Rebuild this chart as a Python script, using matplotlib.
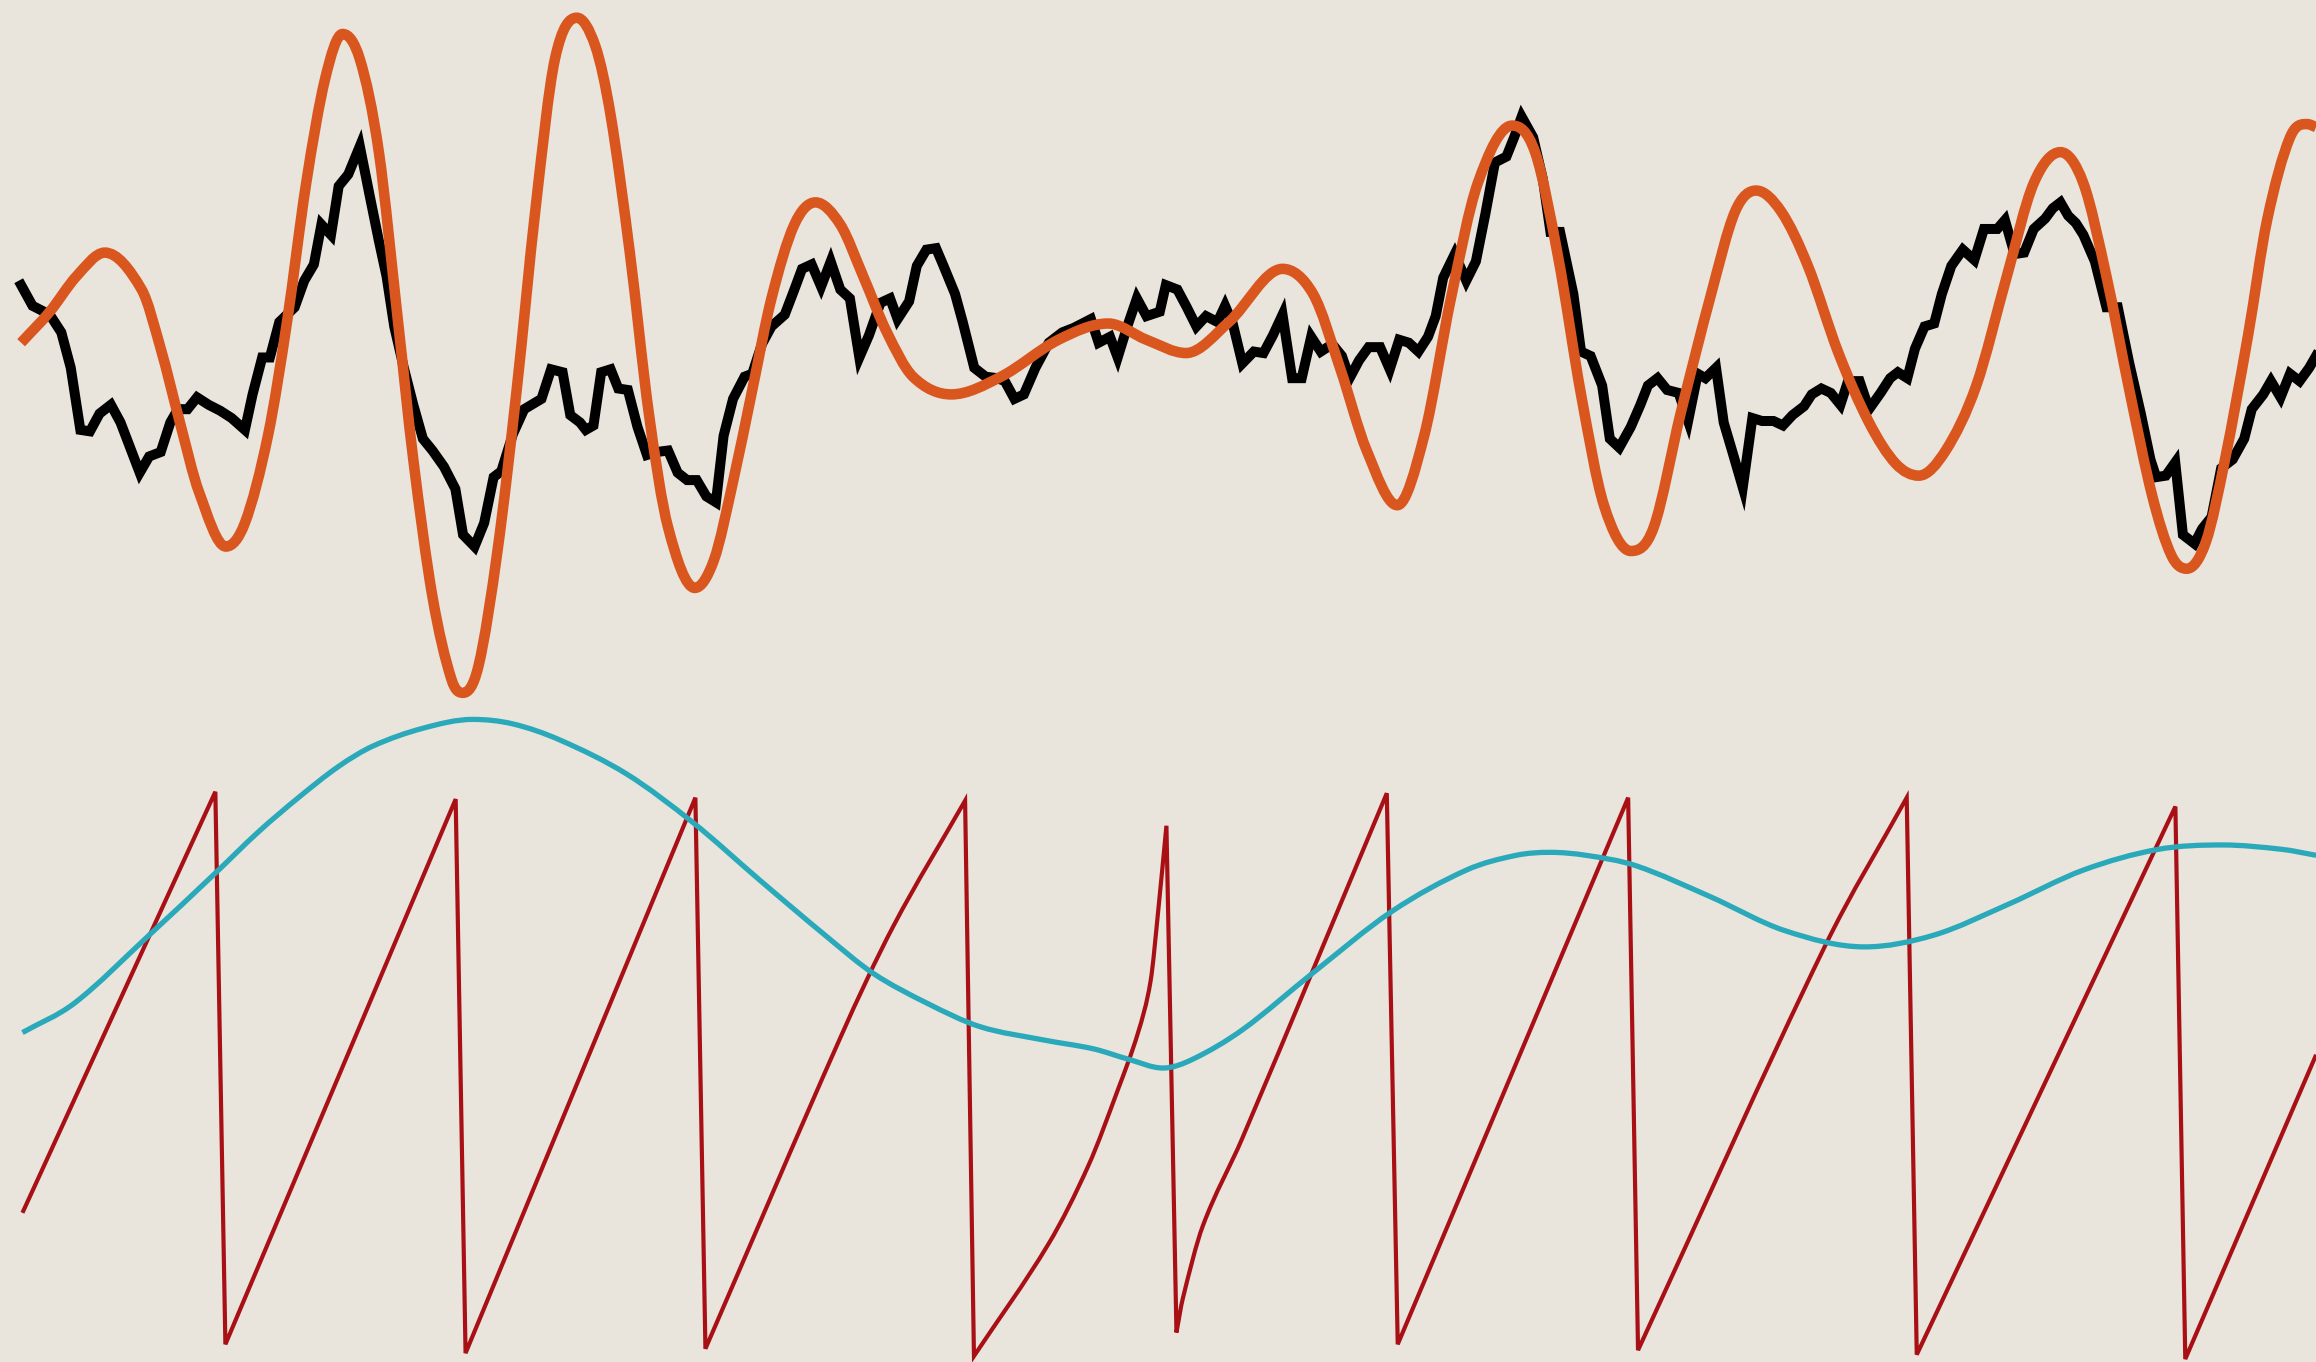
import numpy as np
from matplotlib import pyplot as plt
from matplotlib.path import Path
from matplotlib.patches import PathPatch

# upper trace: noisy measured signal and fitted oscillation
noisy_t = [14.3, 22, 33.7, 41.5, 47.9, 54.4, 60.9, 67.4, 75.1, 81.6, 88.1, 94.6, 101, 108.8,
           115.3, 120.5, 127, 133.4, 141.2, 149, 156.8, 165.8, 171, 177.5, 182.7, 189.1,
           199.5, 206, 212.5, 217.6, 224.1, 229.3, 235.8, 243.6, 250, 256.5, 261.7, 266.9,
           273.4, 279.8, 286.3, 292.8, 300.6, 308.3, 313.5, 321.3, 327.8, 334.2, 339.4,
           347.2, 354.9, 366.6, 373.1, 380.9, 386.1,
           392.7, 396.6, 401.8, 407, 413.4, 418.6, 425.1, 431.6, 438, 444.5, 452.3, 458.8,
           465.2, 471.7, 478.2, 484.7, 489.9, 496.3, 504.1, 509.3, 515.8, 522.3, 531.3,
           537.8, 543, 549.5, 555.9, 562.4, 568.9, 575.4, 581.8, 588.3, 596.1, 602.6, 607.7,
           615.5, 620.7, 627.2, 633.7, 638.8, 646.6, 651.8, 659.6, 667.3, 675.1, 680.3,
           686.8, 693.2, 701, 710.1, 719.2, 726.9, 738.6, 743.8, 751.5, 756.7, 763.2, 769.7,
           776.2, 785.2,
           789.3, 797.1, 803.5, 810, 816.5, 824.3, 829.4, 834.6, 841.1, 848.9, 855.4, 861.8,
           868.3, 874.8, 881.3, 887.7, 894.2, 902, 908.5, 913.7, 920.1, 926.6, 934.4, 940.9,
           947.3, 953.8, 960.3, 966.8, 972, 977.1, 984.9, 992.7, 999.2, 1005.6, 1012.1,
           1019.9, 1025.1, 1030.2, 1038, 1044.5, 1049.7, 1056.2, 1065.2, 1070.4, 1076.9,
           1084.7, 1089.9, 1096.3, 1104.1, 1110.6, 1115.7, 1122.2, 1128.7, 1136.5, 1142.9,
           1149.4, 1154.6,
           1161.8, 1167, 1173.5, 1179.9, 1186.4, 1192.9, 1200.7, 1207.1, 1213.6, 1221.4,
           1226.6, 1233.1, 1239.5, 1246, 1251.2, 1259, 1265.4, 1273.2, 1279.7, 1284.9,
           1291.3, 1296.5, 1303, 1309.5, 1314.7, 1321.1, 1328.9, 1336.7, 1343.2, 1352.2,
           1357.4, 1363.9, 1370.4, 1376.9, 1384.6, 1389.8, 1395, 1400.2, 1405.4, 1410.5,
           1418.3, 1426.1, 1433.8, 1441.6, 1449.4, 1455.9, 1459.8, 1466.3, 1472.7, 1477.9,
           1485.7, 1490.9, 1497.3, 1503.8, 1511.6, 1519.4, 1524.5, 1532.3, 1537.5, 1544,
           1550.4, 1556.9, 1563.4, 1568]
noisy_v = [82, 68, 62, 50, 26, -16, -17, -5, 1, -11, -28, -45, -34, -31,
           -11, -2, -2, 6, 1, -3, -8, -16, 8, 33, 33, 57,
           67, 85, 96, 123, 116, 149, 157, 176, 144, 112, 88, 54,
           26, 1, -22, -30, -41, -56, -87, -95, -79, -48, -44,
           -19, -2, 5, 25, 23, -6,
           -11, -16, -13, 23, 25, 12, 11, -14, -33, -31, -30, -45,
           -50, -50, -61, -65, -20, 5, 20, 22, 42, 54, 62,
           79, 93, 96, 81, 98, 79, 73, 33, 48, 70, 73, 59,
           71, 95, 106, 107, 95, 76, 57, 26, 20, 19, 17,
           5, 8, 26, 43, 50, 53, 59, 43, 47, 33, 54, 73,
           61, 64,
           82, 79, 67, 54, 61, 57, 68, 56, 29, 37, 36, 48,
           62, 19, 19, 47, 37, 42, 34, 19, 31, 40, 40, 25,
           45, 43, 37, 47, 61, 87, 103, 85, 98, 130, 165,
           169, 182, 196, 182, 154, 118, 118, 76, 37, 34,
           14, -22, -28, -14, 1, 14, 19, 11, 9, -10,
           22, 19,
           26, -11, -33, -55, -8, -10, -10, -13, -6, 0,
           8, 12, 9, 1, 17, 17, -2, 9, 19, 23,
           19, 39, 54, 56, 76, 95, 106, 99, 120, 120,
           126, 103, 104, 120, 127, 134, 138, 129, 124, 116,
           98, 67, 67, 29, -5, -36, -48, -47, -38, -87,
           -93, -83, -75, -42, -36, -22, -2, 8, 17, 6,
           22, 17, 26, 34]

fit_t = [14.3, 33.7, 51.8, 71, 95.9, 108.8, 121.8, 134.7, 152.9, 165.8, 181.4, 194.3,
         207.3, 220.2, 231.9, 243.6, 256.5, 269.5, 279.8, 292.8, 305.7, 313.5,
         323.9, 336.8, 349.8, 362.7, 375.7, 390.5, 403, 413.4, 426.4, 439.3, 452.3, 470.4,
         483.4, 496.3, 509.3, 522.3, 537.8, 552.1, 568.9, 584.4, 600, 618.1, 644, 677.7,
         716.6, 750.3, 776.2, 803, 832, 868.3, 889, 907.2, 925.3, 946, 964.2, 982.3,
         1000.5, 1023.8, 1039.3, 1054.9, 1070.4, 1085.9, 1104.1, 1119.6, 1137.8, 1158.5,
         1174.8, 1189, 1205.8, 1224, 1244.7, 1265.4, 1283.6, 1299.1, 1317.3, 1338, 1358.7,
         1376.9, 1395, 1410.5, 1426.1, 1441.6, 1457.2, 1470.1, 1480.5, 1493.4, 1506.4, 1522,
         1534.9, 1550.4, 1562, 1568]
fit_v = [43, 64, 88, 104, 79, 39, -11, -58, -95, -79, -20, 57,
         151, 222, 252, 235, 172, 57, -36, -129, -185, -194,
         -176, -98, 11, 135, 235, 263, 244, 197, 104, -5, -82, -123,
         -104, -51, 11, 73, 123, 138, 123, 88, 51, 20, 8, 20,
         45, 56, 45, 36, 57, 93, 76, 26, -30, -67, -20, 73,
         151, 190, 172, 101, 8, -67, -98, -82, -5, 76,
         132, 146, 132, 95, 36, -11, -39, -47, -30, 14, 88,
         151, 172, 151, 88, 11, -61, -101, -110, -92, -36, 48,
         126, 182, 191, 189]

# lower trace: slow envelope and phase ramp
env_t = [15.2, 50.5, 101, 144.8, 175.1, 202, 229, 252.6, 286.3, 320, 347, 379.2, 424.3,
         469.4, 514.6, 559.7, 591.3, 627.4, 663.5, 706.5, 740.2, 763.8, 787.4, 807.6,
         841.3, 888.4, 942.3, 992.8, 1026.5, 1049.4, 1073.7, 1107.4, 1157.9, 1208.4,
         1262.3, 1309.4, 1360, 1410.5, 1461, 1504.8, 1545.2, 1568.1]
env_v = [231, 251, 297, 338, 367, 390, 411, 425, 437, 443, 440, 429, 406,
         373, 334, 296, 271, 251, 235, 226, 220, 213, 207, 213,
         233, 271, 313, 341, 351, 353, 351, 344, 323, 300,
         289, 297, 318, 341, 355, 358, 355, 351]

ramp_t = [15.2, 145.8, 152.6, 308.5, 315.2, 470.8, 477.6, 568.7, 604.8, 653.4,
          659.4, 709.9, 736.9, 757.1, 770.5, 779, 784, 789.7, 796.5, 800.8, 814.3, 841.3,
          938.9, 946.3, 1102.3, 1109, 1235.3, 1290.9, 1297.7, 1472.8, 1479.5, 1568.1]
ramp_v = [109, 394, 20, 389, 14, 390, 17, 227, 303, 388,
          12, 88, 141, 193, 231, 266, 312, 371, 28, 51, 100, 160,
          393, 20, 390, 16, 289, 390, 13, 384, 10, 216]


def tangents(x, y):
    # centred slope, flat where the series turns
    d = np.diff(y) / np.diff(x)
    m = np.zeros(len(x))
    m[0], m[-1] = d[0], d[-1]
    for k in range(1, len(x) - 1):
        if d[k - 1] * d[k] > 0:
            m[k] = (y[k + 1] - y[k - 1]) / (x[k + 1] - x[k - 1])
    return m


def smooth_segments(x, y):
    x = np.asarray(x, float)
    y = np.asarray(y, float)
    if len(x) == 2:
        return [(x[1], y[1])], [Path.LINETO]
    m = tangents(x, y)
    verts, codes = [], []
    for i in range(len(x) - 1):
        h = x[i + 1] - x[i]
        verts += [(x[i] + h / 3, y[i] + m[i] * h / 3),
                  (x[i + 1] - h / 3, y[i + 1] - m[i + 1] * h / 3),
                  (x[i + 1], y[i + 1])]
        codes += [Path.CURVE4] * 3
    return verts, codes


def smooth_path(x, y):
    verts, codes = smooth_segments(x, y)
    return Path([(x[0], y[0])] + verts, [Path.MOVETO] + codes)


def ramp_path(x, y):
    # rising stretches are smoothed, the resets stay straight drops
    verts, codes = [(x[0], y[0])], [Path.MOVETO]
    start = 0
    for i in range(1, len(x) + 1):
        if i == len(x) or y[i] < y[i - 1]:
            v, c = smooth_segments(x[start:i], y[start:i])
            verts += v
            codes += c
            if i < len(x):
                verts.append((x[i], y[i]))
                codes.append(Path.LINETO)
            start = i
    return Path(verts, codes)


bg = '#e9e5dc'
fig = plt.figure(figsize=(23.16, 13.62), dpi=100, facecolor=bg)
ax1 = fig.add_axes([0, 0.4794, 1, 0.5206])
ax2 = fig.add_axes([0, 0, 1, 0.4794])

ax1.plot(noisy_t, noisy_v, color='black', lw=7.2, solid_joinstyle='miter', clip_on=False, zorder=2)
ax1.add_patch(PathPatch(smooth_path(fit_t, fit_v), fill=False, edgecolor='#d9571f', lw=7.6,
                        joinstyle='round', capstyle='butt', clip_on=False, zorder=3))
ax1.set_ylim(-205, 275)

ax2.add_patch(PathPatch(ramp_path(ramp_t, ramp_v), fill=False, edgecolor='#a81016', lw=3,
                        joinstyle='miter', capstyle='butt', clip_on=False, zorder=2))
ax2.add_patch(PathPatch(smooth_path(env_t, env_v), fill=False, edgecolor='#2aa9bb', lw=3.8,
                        capstyle='butt', clip_on=False, zorder=3))
ax2.set_ylim(8, 450)

for ax in (ax1, ax2):
    ax.set_xlim(0, 1568)
    ax.set_facecolor(bg)
    ax.axis('off')

fig.savefig('out.png', dpi=100, facecolor=bg)
